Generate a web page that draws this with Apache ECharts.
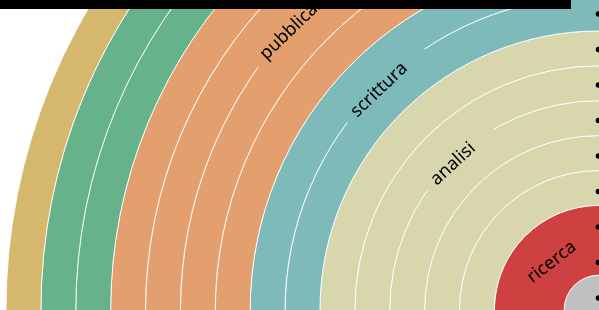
<!DOCTYPE html>
<html>
<head>
<meta charset="utf-8">
<script src="https://cdn.jsdelivr.net/npm/echarts@6/dist/echarts.min.js"></script>
<style>
  html, body { margin: 0; padding: 0; background: #fff; }
  #chart { width: 599px; height: 310px; }
</style>
</head>
<body>
<div id="chart"></div>
<script>
// fasi del lavoro, dal centro verso l'esterno
var fasi = ['ricerca', 'analisi', 'scrittura', 'pubblicazione', 'revisione', 'discussione'];
var colori = ['#cf4141', '#d7d6ac', '#7dbab9', '#e3a06e', '#65b28b', '#d5b86d'];
// spessore (in unita) di ogni sotto-anello di ciascuna fase
var anelli = [[2], [1, 1, 1, 1, 1], [1, 1], [1, 1, 1, 1], [1, 1], [1]];
var nucleo = 1; // cerchio grigio centrale, in unita
var raggioEsterno = 593;

var chart = echarts.init(document.getElementById('chart'));

var totale = nucleo;
anelli.forEach(function(a) {
	a.forEach(function(v) { totale += v; });
});
var u = raggioEsterno / totale;

var padSx = 10, padDx = 26;

var series = [];
var base = {
	type: 'pie',
	center: ['100%', '100%'],
	startAngle: 315,
	silent: true,
	animation: false,
	label: { show: false },
	labelLine: { show: false }
};

series.push(Object.assign({}, base, {
	radius: [0, nucleo * u],
	data: [{ value: 1, name: 'centro' }],
	itemStyle: { color: '#c0c0c0', borderColor: '#fff', borderWidth: 1 }
}));

var r = nucleo;
anelli.forEach(function(a, i) {
	var inizio = r;
	a.forEach(function(v) {
		series.push(Object.assign({}, base, {
			radius: [r * u, (r + v) * u],
			data: [{ value: 1, name: fasi[i] }],
			itemStyle: { color: colori[i], borderColor: 'rgba(255,255,255,0.85)', borderWidth: 1 }
		}));
		r += v;
	});
	// raggio dell'etichetta: sul bordo centrale della fase
	var meta = Math.ceil(a.length / 2);
	var rl = inizio;
	if (a.length == 1) {
		rl = inizio + a[0] / 2;
	} else {
		for (var k = 0; k < meta; k++) rl += a[k];
	}
	var rpx = rl * u - 6;
	// sposta l'ancora per ricentrare il testo (padding asimmetrico)
	var delta = ((padDx - padSx) / 2) / rpx * 180 / Math.PI;
	series.push(Object.assign({}, base, {
		z: 3,
		startAngle: 315 - delta,
		radius: [rpx - u / 2, rpx + u / 2],
		data: [{ value: 1, name: fasi[i] }],
		itemStyle: { color: 'transparent', borderWidth: 0 },
		label: {
			show: true,
			position: 'inside',
			rotate: 'tangential',
			formatter: '{b}',
			fontFamily: 'Noto Sans',
			fontSize: 18,
			color: '#000',
			backgroundColor: colori[i],
			padding: [4, padDx, 4, padSx]
		}
	}));
});

var puntini = [];
for (var j = 0; j < 9; j++) {
	puntini.push({
		type: 'circle',
		shape: { cx: 598.5, cy: 14 + j * 35.5, r: 2.8 },
		style: { fill: '#000' },
		z: 100
	});
}

var option = {
	backgroundColor: '#fff',
	series: series,
	graphic: [{
		type: 'rect',
		shape: { x: 0, y: 0, width: 571, height: 9 },
		style: { fill: '#000' },
		z: 100
	}].concat(puntini)
};
chart.setOption(option);
</script>
</body>
</html>
